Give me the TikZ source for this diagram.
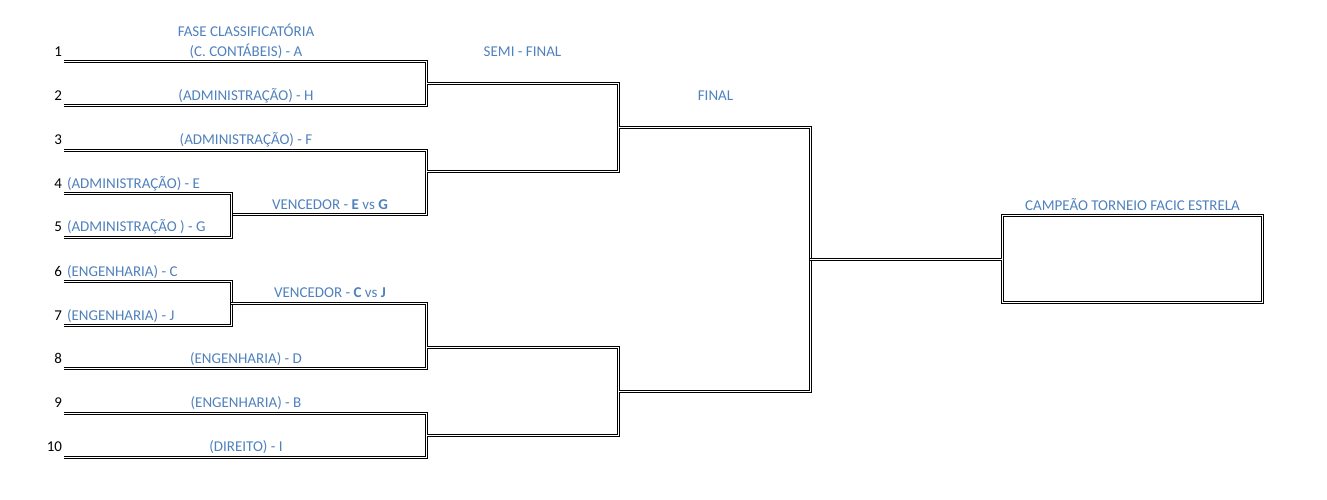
\documentclass[tikz,border=0pt]{standalone}
\usepackage{fontspec}
\setmainfont{Carlito}
\usepackage{tikz}
\usetikzlibrary{arrows,positioning}
\definecolor{azul}{RGB}{79,129,189}

\begin{document}
\begin{tikzpicture}[x=1pt, y=-1pt, line width=.9pt]
\tikzstyle{every node}=[font=\fontsize{15}{18}\selectfont, inner sep=0pt, outer sep=0pt] %%
\tikzstyle{chave}=[double, double distance=1.1pt, line join=miter]
\tikzstyle{equipe}=[text=azul, anchor=base]
\tikzstyle{numero}=[anchor=base east]
\useasboundingbox (0,0) rectangle (1327,499);
% pontos da chave
\coordinate (l1) at (64,61.3);
\coordinate (l2) at (64,105.5);
\coordinate (l3) at (64,150.2);
\coordinate (l4) at (64,193.5);
\coordinate (l5) at (64,237.2);
\coordinate (l6) at (64,281.8);
\coordinate (l7) at (64,325.5);
\coordinate (l8) at (64,368.8);
\coordinate (l9) at (64,413.2);
\coordinate (l10) at (64,457.2);
\coordinate (v45) at (231.2,214.8);
\coordinate (v67) at (231.2,303.2);
\coordinate (jAH) at (426.5,83.5);
\coordinate (jFEG) at (426.5,171.2);
\coordinate (jDCJ) at (426.5,347.5);
\coordinate (jBI) at (426.5,435.3);
\coordinate (s1) at (618.5,127.3);
\coordinate (s2) at (618.5,391.2);
\coordinate (fin) at (810.3,259.2);
% chaves
\draw[chave] (l1) -| (jAH |- l2) -- (l2);
\draw[chave] (l3) -| (jFEG |- v45) -- (v45);
\draw[chave] (l4) -| (v45 |- l5) -- (l5);
\draw[chave] (l6) -| (v67 |- l7) -- (l7);
\draw[chave] (v67) -| (jDCJ |- l8) -- (l8);
\draw[chave] (l9) -| (jBI |- l10) -- (l10);
\draw[chave] (jFEG) -| (s1 |- jAH) -- (jAH);
\draw[chave] (jDCJ) -| (s2 |- jBI) -- (jBI);
\draw[chave] (s1) -| (fin |- s2) -- (s2);
\node[draw, chave, minimum width=260.3pt, minimum height=87.6pt] (campeao) at (1132.35,259) {};
\draw[chave] (fin) -- (fin -| campeao.west);
% numeros
\node[numero] (n1) at (62,56) {1};
\node[numero] (n2) at (62,100.2) {2};
\node[numero] (n3) at (62,144.9) {3};
\node[numero] (n4) at (62,188.2) {4};
\node[numero] (n5) at (62,231.9) {5};
\node[numero] (n6) at (62,276.5) {6};
\node[numero] (n7) at (62,320.2) {7};
\node[numero] (n8) at (62,363.5) {8};
\node[numero] (n9) at (62,407.9) {9};
\node[numero] (n10) at (62,451.9) {10};
% equipes
\node[equipe] (fase) at (246,36) {FASE CLASSIFICATÓRIA};
\node[equipe] (eqA) at (246,56) {(C. CONTÁBEIS) - A};
\node[equipe] (eqH) at (246,100.2) {(ADMINISTRAÇÃO) - H};
\node[equipe] (eqF) at (246,144.9) {(ADMINISTRAÇÃO) - F};
\node[equipe, anchor=base west] (eqE) at (67,188.2) {(ADMINISTRAÇÃO) - E};
\node[equipe, anchor=base west] (eqG) at (67,231.9) {(ADMINISTRAÇÃO ) - G};
\node[equipe, anchor=base west] (eqC) at (67,276.5) {(ENGENHARIA) - C};
\node[equipe, anchor=base west] (eqJ) at (67,320.2) {(ENGENHARIA) - J};
\node[equipe] (eqD) at (246,363.5) {(ENGENHARIA) - D};
\node[equipe] (eqB) at (246,407.9) {(ENGENHARIA) - B};
\node[equipe] (eqI) at (246,451.9) {(DIREITO) - I};
\node[equipe] (vEG) at (330,209) {VENCEDOR - \textbf{E} vs \textbf{G}};
\node[equipe] (vCJ) at (330,297) {VENCEDOR - \textbf{C} vs \textbf{J}};
\node[equipe] (semi) at (522.5,56) {SEMI - FINAL};
\node[equipe] (final) at (715.5,100) {FINAL};
\node[equipe] (titulo) at (1132.5,210) {CAMPEÃO TORNEIO FACIC ESTRELA};
\end{tikzpicture}
\end{document}
